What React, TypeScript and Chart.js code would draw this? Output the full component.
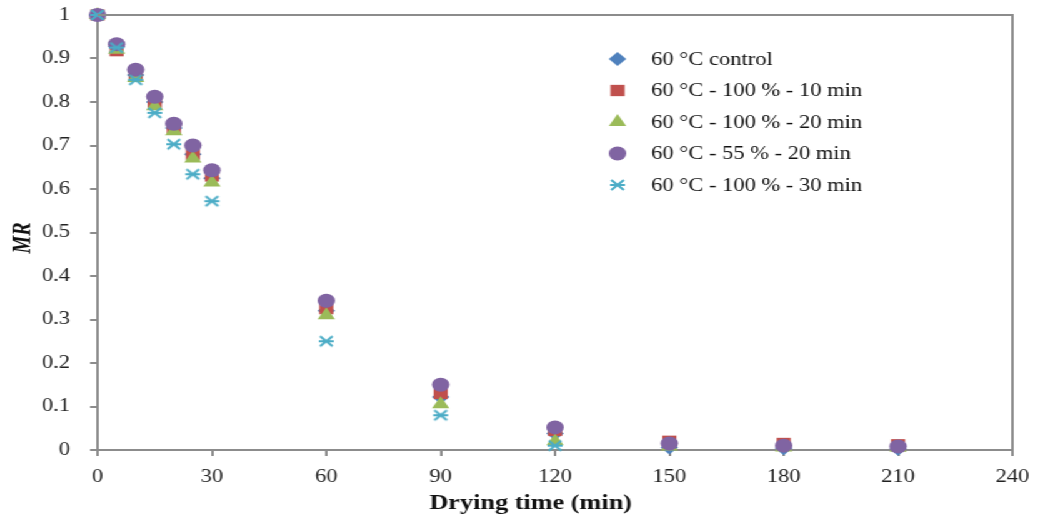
import React, { useEffect, useRef } from "react";
import { Chart, registerables } from "chart.js";

Chart.register(...registerables);

const times = [0, 5, 10, 15, 20, 25, 30, 60, 90, 120, 150, 180, 210];
const control = [1, 0.928, 0.862, 0.8, 0.74, 0.68, 0.625, 0.32, 0.122, 0.038, 0.006, 0.004, 0.003];
const rh100_10 = [1, 0.918, 0.86, 0.8, 0.74, 0.68, 0.63, 0.325, 0.13, 0.045, 0.02, 0.015, 0.012];
const rh100_20 = [1, 0.92, 0.855, 0.79, 0.733, 0.67, 0.615, 0.31, 0.105, 0.02, 0.008, 0.006, 0.005];
const rh55_20 = [1, 0.933, 0.874, 0.812, 0.75, 0.7, 0.643, 0.343, 0.15, 0.052, 0.015, 0.01, 0.008];
const rh100_30 = [1, 0.925, 0.851, 0.775, 0.703, 0.634, 0.572, 0.25, 0.08, 0.01, null, null, null];

const seriesLabels = [
  "60 °C control",
  "60 °C - 100 % - 10 min",
  "60 °C - 100 % - 20 min",
  "60 °C - 55 % - 20 min",
  "60 °C - 100 % - 30 min",
];
const yTicks = [0, 0.1, 0.2, 0.3, 0.4, 0.5, 0.6, 0.7, 0.8, 0.9, 1];
const xTicks = [0, 30, 60, 90, 120, 150, 180, 210, 240];

const COLORS = ["#4F81BD", "#C0504D", "#9BBB59", "#8064A2", "#4BACC6"];
const STRETCH = 1.25;
const W = 830;
const H = 519;
const SERIF = "'Liberation Serif', 'Times New Roman', serif";

function makeStar(color: string) {
  const c = document.createElement("canvas");
  c.width = 14;
  c.height = 14;
  const g = c.getContext("2d")!;
  g.strokeStyle = color;
  g.lineWidth = 2;
  g.beginPath();
  g.moveTo(2, 2);
  g.lineTo(12, 12);
  g.moveTo(12, 2);
  g.lineTo(2, 12);
  g.moveTo(1, 7);
  g.lineTo(13, 7);
  g.stroke();
  return c;
}

function drawMarker(ctx: CanvasRenderingContext2D, style: any, x: number, y: number, r: number, color: string) {
  ctx.save();
  ctx.fillStyle = color;
  ctx.beginPath();
  if (style === "rectRot") {
    ctx.moveTo(x, y - r);
    ctx.lineTo(x + r, y);
    ctx.lineTo(x, y + r);
    ctx.lineTo(x - r, y);
    ctx.closePath();
    ctx.fill();
  } else if (style === "rect") {
    const s = r * Math.SQRT1_2;
    ctx.rect(x - s, y - s, 2 * s, 2 * s);
    ctx.fill();
  } else if (style === "triangle") {
    ctx.moveTo(x, y - r);
    ctx.lineTo(x + r * 0.866, y + r * 0.5);
    ctx.lineTo(x - r * 0.866, y + r * 0.5);
    ctx.closePath();
    ctx.fill();
  } else if (style === "circle") {
    ctx.arc(x, y, r, 0, Math.PI * 2);
    ctx.fill();
  } else {
    ctx.drawImage(style, x - 7, y - 7);
  }
  ctx.restore();
}

export default function App() {
  const ref = useRef<HTMLCanvasElement>(null);

  useEffect(() => {
    if (!ref.current) return;
    const star = makeStar(COLORS[4]);
    const styles: any[] = ["rectRot", "rect", "triangle", "circle", star];
    const radii = [7, 8, 8, 7, 7];
    const series = [control, rh100_10, rh100_20, rh55_20, rh100_30];

    const datasets = series.map((vals, i) => ({
      label: seriesLabels[i],
      data: times.map((t, j) => ({ x: t, y: vals[j] })).filter((p) => p.y !== null),
      backgroundColor: COLORS[i],
      borderColor: COLORS[i],
      borderWidth: 0,
      pointStyle: styles[i],
      pointRadius: radii[i],
      pointHoverRadius: radii[i],
      showLine: false,
      order: 5 - i,
      clip: false as any,
    }));

    const decor = {
      id: "decor",
      afterDraw(chart: any) {
        const ctx = chart.ctx as CanvasRenderingContext2D;
        const a = chart.chartArea;
        ctx.save();
        ctx.strokeStyle = "#8c8c8c";
        ctx.lineWidth = 2;
        ctx.beginPath();
        ctx.moveTo(a.left, a.top);
        ctx.lineTo(a.right, a.top);
        ctx.lineTo(a.right, a.bottom);
        ctx.stroke();
        ctx.fillStyle = "#111";
        ctx.font = `bold 21px ${SERIF}`;
        ctx.textAlign = "center";
        ctx.textBaseline = "middle";
        ctx.fillText("Drying time (min)", 424.5, 504);
        ctx.save();
        ctx.translate(19, 238);
        ctx.rotate(-Math.PI / 2);
        ctx.font = `italic bold 20px ${SERIF}`;
        ctx.fillText("MR", 0, 0);
        ctx.restore();
        ctx.font = `18px ${SERIF}`;
        ctx.textAlign = "left";
        ctx.fillStyle = "#111";
        const rows = [59, 90.5, 122, 153.5, 185];
        for (let i = 0; i < 5; i++) {
          drawMarker(ctx, styles[i], 494, rows[i], radii[i], COLORS[i]);
          ctx.fillText(seriesLabels[i], 521, rows[i] + 1);
        }
        ctx.restore();
      },
    };

    const chart = new Chart(ref.current, {
      type: "scatter",
      data: { datasets: datasets as any },
      plugins: [decor],
      options: {
        animation: false,
        responsive: false,
        maintainAspectRatio: false,
        devicePixelRatio: 1,
        layout: { padding: { top: 15, right: 20, left: 0, bottom: 0 } },
        plugins: { legend: { display: false }, tooltip: { enabled: false } },
        scales: {
          x: {
            type: "linear",
            min: 0,
            max: 240,
            afterFit: (s: any) => {
              s.height = 69;
              s.paddingLeft = 0;
              s.paddingRight = 0;
            },
            afterBuildTicks: (s: any) => {
              s.ticks = xTicks.map((v) => ({ value: v }));
            },
            ticks: {
              color: "#222",
              font: { family: SERIF, size: 18 },
              padding: 10,
              callback: (v: any) => String(v),
            },
            grid: { drawOnChartArea: false, drawTicks: true, tickLength: 6, color: "#8c8c8c", lineWidth: 2 },
            border: { display: true, color: "#8c8c8c", width: 2 },
          },
          y: {
            type: "linear",
            min: 0,
            max: 1,
            afterFit: (s: any) => {
              s.width = 78;
              s.paddingTop = 0;
              s.paddingBottom = 0;
            },
            afterBuildTicks: (s: any) => {
              s.ticks = yTicks.map((v) => ({ value: v }));
            },
            ticks: {
              color: "#222",
              font: { family: SERIF, size: 18 },
              padding: 16,
              callback: (v: any) => String(Number(Number(v).toFixed(1))),
            },
            grid: { drawOnChartArea: false, drawTicks: true, tickLength: 6, color: "#8c8c8c", lineWidth: 2 },
            border: { display: true, color: "#8c8c8c", width: 2 },
          },
        },
      },
    });
    return () => chart.destroy();
  }, []);

  return (
    <div
      style={{
        position: "absolute",
        left: 0,
        top: 0,
        width: W,
        height: H,
        transform: `scaleX(${STRETCH})`,
        transformOrigin: "0 0",
        background: "#fff",
      }}
    >
      <canvas ref={ref} width={W} height={H} style={{ display: "block", width: W, height: H }} />
    </div>
  );
}
